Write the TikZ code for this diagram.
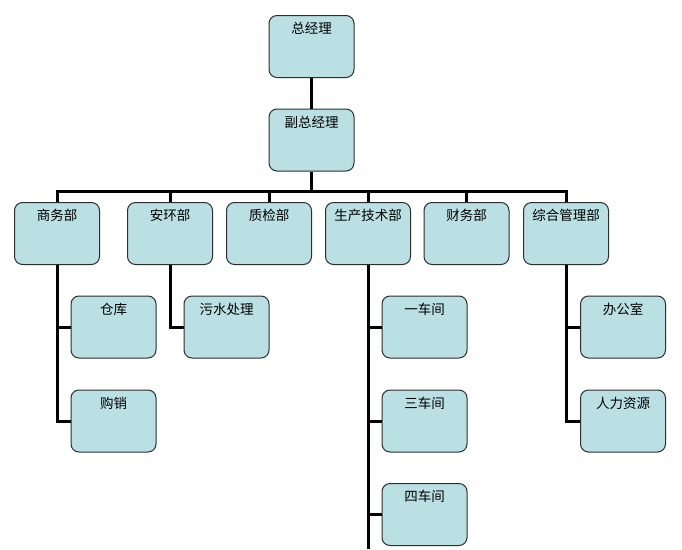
\documentclass[tikz,border=0pt]{standalone}
\usepackage{fontspec}
\newfontfamily\cjk{Noto Sans CJK SC}
\definecolor{boxblue}{RGB}{187,224,227}
\definecolor{boxline}{RGB}{45,45,45}
\tikzset{
  orgbox/.style={draw=boxline, line width=1pt, fill=boxblue, rounded corners=8pt,
    minimum width=85pt, minimum height=62pt, inner sep=0pt,
    label={[lbl]north:#1}},
  lbl/.style={anchor=north, yshift=-7pt, inner sep=0pt, font=\cjk\fontsize{13.5}{13.5}\selectfont},
  conn/.style={line width=3pt, black}
}
\begin{document}
\begin{tikzpicture}[x=1pt,y=-1pt]
\useasboundingbox (0,0) rectangle (682,549);
% level 0/1
\node[orgbox=总经理] (boss) at (311.5,46.5) {};
\node[orgbox=副总经理] (vp) at (311.5,140) {};
% level 2
\node[orgbox=商务部] (d1) at (57,233.5) {};
\node[orgbox=安环部] (d2) at (170,233.5) {};
\node[orgbox=质检部] (d3) at (269,233.5) {};
\node[orgbox=生产技术部] (d4) at (368,233.5) {};
\node[orgbox=财务部] (d5) at (466.5,233.5) {};
\node[orgbox=综合管理部] (d6) at (566,233.5) {};
% level 3
\node[orgbox=仓库] (c11) at (113.5,327) {};
\node[orgbox=购销] (c12) at (113.5,421) {};
\node[orgbox=污水处理] (c21) at (226.5,327) {};
\node[orgbox=一车间] (c41) at (424.5,327) {};
\node[orgbox=三车间] (c42) at (424.5,421) {};
\node[orgbox=四车间] (c43) at (424.5,514.5) {};
\node[orgbox=办公室] (c61) at (623,327) {};
\node[orgbox=人力资源] (c62) at (623,421) {};
\coordinate (bus) at (0,191);
\coordinate (bottom) at (368,549);
% connectors
\draw[conn] (boss.south) -- (vp.north);
\draw[conn] (vp.south) -- (vp.south |- bus);
\draw[conn] (d1.north) -- (d1.north |- bus) -- (d6.north |- bus) -- (d6.north);
\foreach \d in {d2,d3,d4,d5} \draw[conn] (\d.north) -- (\d.north |- bus);
\draw[conn] (d1.south) |- (c12.west);
\draw[conn] (d1.south |- c11.west) -- (c11.west);
\draw[conn] (d2.south) |- (c21.west);
\draw[conn] (d4.south) -- (bottom);
\foreach \c in {c41,c42,c43} \draw[conn] (d4.south |- \c.west) -- (\c.west);
\draw[conn] (d6.south) |- (c62.west);
\draw[conn] (d6.south |- c61.west) -- (c61.west);
\end{tikzpicture}
\end{document}
